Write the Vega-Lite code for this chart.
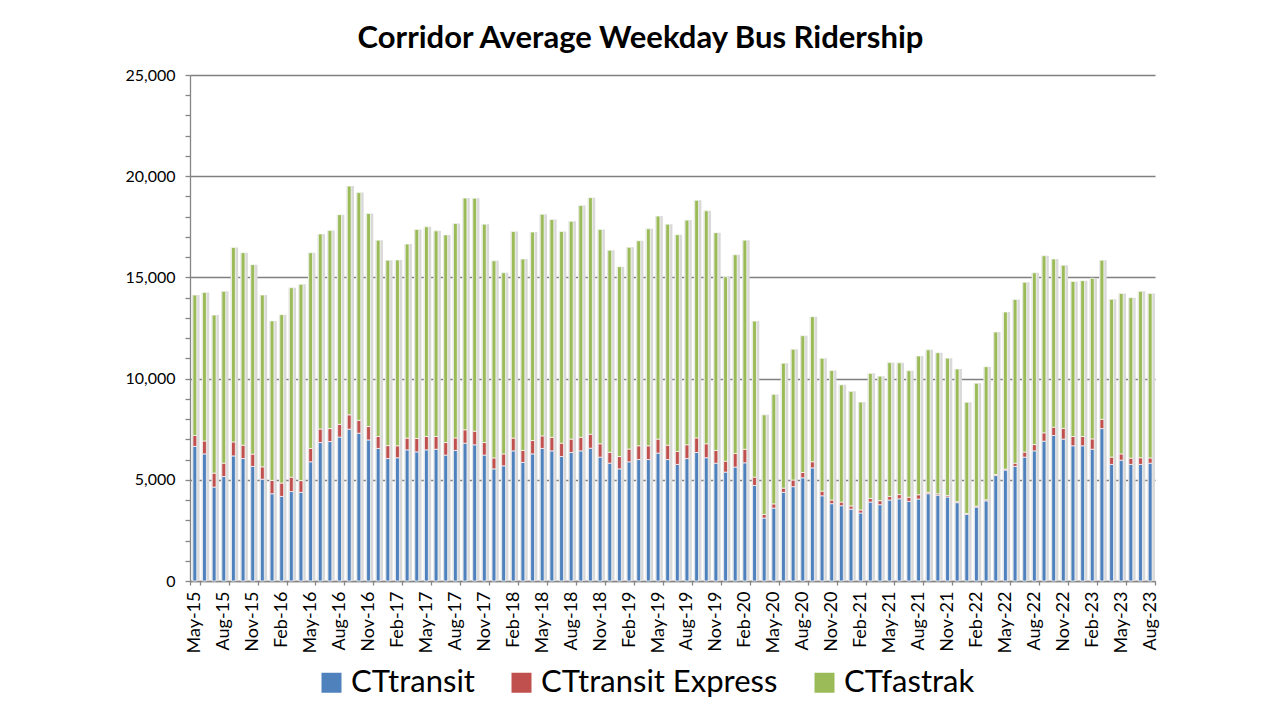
{
  "$schema": "https://vega.github.io/schema/vega-lite/v6.json",
  "width": 965,
  "height": 506,
  "autosize": {"type": "none"},
  "padding": {"left": 190, "top": 75, "right": 125, "bottom": 139},
  "background": "white",
  "config": {"font": "Lato", "view": {"stroke": null}},
  "title": {
    "text": "Corridor Average Weekday Bus Ridership",
    "font": "Lato",
    "fontSize": 31,
    "fontWeight": "bold",
    "color": "#000000",
    "anchor": "middle",
    "dx": -32,
    "offset": 12
  },
  "data": {
    "values": [
      {"m": "May-15", "CTtransit": 6650, "CTtransit Express": 540, "CTfastrak": 6940},
      {"m": "Jun-15", "CTtransit": 6280, "CTtransit Express": 640, "CTfastrak": 7340},
      {"m": "Jul-15", "CTtransit": 4640, "CTtransit Express": 690, "CTfastrak": 7810},
      {"m": "Aug-15", "CTtransit": 5160, "CTtransit Express": 660, "CTfastrak": 8490},
      {"m": "Sep-15", "CTtransit": 6180, "CTtransit Express": 690, "CTfastrak": 9610},
      {"m": "Oct-15", "CTtransit": 6050, "CTtransit Express": 660, "CTfastrak": 9510},
      {"m": "Nov-15", "CTtransit": 5660, "CTtransit Express": 610, "CTfastrak": 9360},
      {"m": "Dec-15", "CTtransit": 5030, "CTtransit Express": 610, "CTfastrak": 8490},
      {"m": "Jan-16", "CTtransit": 4310, "CTtransit Express": 660, "CTfastrak": 7880},
      {"m": "Feb-16", "CTtransit": 4180, "CTtransit Express": 660, "CTfastrak": 8320},
      {"m": "Mar-16", "CTtransit": 4420, "CTtransit Express": 710, "CTfastrak": 9360},
      {"m": "Apr-16", "CTtransit": 4380, "CTtransit Express": 580, "CTfastrak": 9700},
      {"m": "May-16", "CTtransit": 5890, "CTtransit Express": 660, "CTfastrak": 9670},
      {"m": "Jun-16", "CTtransit": 6840, "CTtransit Express": 670, "CTfastrak": 9640},
      {"m": "Jul-16", "CTtransit": 6890, "CTtransit Express": 640, "CTfastrak": 9790},
      {"m": "Aug-16", "CTtransit": 7110, "CTtransit Express": 630, "CTfastrak": 10360},
      {"m": "Sep-16", "CTtransit": 7500, "CTtransit Express": 710, "CTfastrak": 11300},
      {"m": "Oct-16", "CTtransit": 7300, "CTtransit Express": 640, "CTfastrak": 11250},
      {"m": "Nov-16", "CTtransit": 6970, "CTtransit Express": 660, "CTfastrak": 10530},
      {"m": "Dec-16", "CTtransit": 6550, "CTtransit Express": 590, "CTfastrak": 9700},
      {"m": "Jan-17", "CTtransit": 6050, "CTtransit Express": 640, "CTfastrak": 9160},
      {"m": "Feb-17", "CTtransit": 6090, "CTtransit Express": 590, "CTfastrak": 9180},
      {"m": "Mar-17", "CTtransit": 6480, "CTtransit Express": 580, "CTfastrak": 9590},
      {"m": "Apr-17", "CTtransit": 6380, "CTtransit Express": 660, "CTfastrak": 10330},
      {"m": "May-17", "CTtransit": 6480, "CTtransit Express": 660, "CTfastrak": 10360},
      {"m": "Jun-17", "CTtransit": 6510, "CTtransit Express": 630, "CTfastrak": 10160},
      {"m": "Jul-17", "CTtransit": 6220, "CTtransit Express": 620, "CTfastrak": 10260},
      {"m": "Aug-17", "CTtransit": 6450, "CTtransit Express": 620, "CTfastrak": 10590},
      {"m": "Sep-17", "CTtransit": 6810, "CTtransit Express": 660, "CTfastrak": 11450},
      {"m": "Oct-17", "CTtransit": 6730, "CTtransit Express": 670, "CTfastrak": 11510},
      {"m": "Nov-17", "CTtransit": 6220, "CTtransit Express": 620, "CTfastrak": 10790},
      {"m": "Dec-17", "CTtransit": 5540, "CTtransit Express": 540, "CTfastrak": 9740},
      {"m": "Jan-18", "CTtransit": 5690, "CTtransit Express": 590, "CTfastrak": 8950},
      {"m": "Feb-18", "CTtransit": 6430, "CTtransit Express": 630, "CTfastrak": 10210},
      {"m": "Mar-18", "CTtransit": 5860, "CTtransit Express": 590, "CTfastrak": 9460},
      {"m": "Apr-18", "CTtransit": 6280, "CTtransit Express": 660, "CTfastrak": 10300},
      {"m": "May-18", "CTtransit": 6550, "CTtransit Express": 620, "CTfastrak": 10950},
      {"m": "Jun-18", "CTtransit": 6430, "CTtransit Express": 670, "CTfastrak": 10760},
      {"m": "Jul-18", "CTtransit": 6150, "CTtransit Express": 660, "CTfastrak": 10460},
      {"m": "Aug-18", "CTtransit": 6350, "CTtransit Express": 660, "CTfastrak": 10760},
      {"m": "Sep-18", "CTtransit": 6430, "CTtransit Express": 670, "CTfastrak": 11450},
      {"m": "Oct-18", "CTtransit": 6560, "CTtransit Express": 690, "CTfastrak": 11690},
      {"m": "Nov-18", "CTtransit": 6120, "CTtransit Express": 660, "CTfastrak": 10590},
      {"m": "Dec-18", "CTtransit": 5820, "CTtransit Express": 540, "CTfastrak": 9980},
      {"m": "Jan-19", "CTtransit": 5540, "CTtransit Express": 610, "CTfastrak": 9380},
      {"m": "Feb-19", "CTtransit": 5890, "CTtransit Express": 630, "CTfastrak": 9970},
      {"m": "Mar-19", "CTtransit": 6000, "CTtransit Express": 680, "CTfastrak": 10130},
      {"m": "Apr-19", "CTtransit": 6000, "CTtransit Express": 680, "CTfastrak": 10720},
      {"m": "May-19", "CTtransit": 6320, "CTtransit Express": 690, "CTfastrak": 11020},
      {"m": "Jun-19", "CTtransit": 6000, "CTtransit Express": 710, "CTfastrak": 10920},
      {"m": "Jul-19", "CTtransit": 5760, "CTtransit Express": 640, "CTfastrak": 10710},
      {"m": "Aug-19", "CTtransit": 6050, "CTtransit Express": 680, "CTfastrak": 11100},
      {"m": "Sep-19", "CTtransit": 6350, "CTtransit Express": 720, "CTfastrak": 11740},
      {"m": "Oct-19", "CTtransit": 6090, "CTtransit Express": 690, "CTfastrak": 11510},
      {"m": "Nov-19", "CTtransit": 5820, "CTtransit Express": 630, "CTfastrak": 10760},
      {"m": "Dec-19", "CTtransit": 5380, "CTtransit Express": 540, "CTfastrak": 9110},
      {"m": "Jan-20", "CTtransit": 5630, "CTtransit Express": 670, "CTfastrak": 9820},
      {"m": "Feb-20", "CTtransit": 5840, "CTtransit Express": 670, "CTfastrak": 10330},
      {"m": "Mar-20", "CTtransit": 4720, "CTtransit Express": 410, "CTfastrak": 7710},
      {"m": "Apr-20", "CTtransit": 3110, "CTtransit Express": 180, "CTfastrak": 4920},
      {"m": "May-20", "CTtransit": 3600, "CTtransit Express": 210, "CTfastrak": 5410},
      {"m": "Jun-20", "CTtransit": 4380, "CTtransit Express": 210, "CTfastrak": 6170},
      {"m": "Jul-20", "CTtransit": 4660, "CTtransit Express": 330, "CTfastrak": 6460},
      {"m": "Aug-20", "CTtransit": 5100, "CTtransit Express": 260, "CTfastrak": 6760},
      {"m": "Sep-20", "CTtransit": 5590, "CTtransit Express": 300, "CTfastrak": 7170},
      {"m": "Oct-20", "CTtransit": 4210, "CTtransit Express": 230, "CTfastrak": 6560},
      {"m": "Nov-20", "CTtransit": 3820, "CTtransit Express": 180, "CTfastrak": 6400},
      {"m": "Dec-20", "CTtransit": 3720, "CTtransit Express": 180, "CTfastrak": 5790},
      {"m": "Jan-21", "CTtransit": 3550, "CTtransit Express": 160, "CTfastrak": 5660},
      {"m": "Feb-21", "CTtransit": 3360, "CTtransit Express": 150, "CTfastrak": 5330},
      {"m": "Mar-21", "CTtransit": 3900, "CTtransit Express": 180, "CTfastrak": 6180},
      {"m": "Apr-21", "CTtransit": 3770, "CTtransit Express": 200, "CTfastrak": 6150},
      {"m": "May-21", "CTtransit": 4000, "CTtransit Express": 180, "CTfastrak": 6610},
      {"m": "Jun-21", "CTtransit": 4060, "CTtransit Express": 210, "CTfastrak": 6510},
      {"m": "Jul-21", "CTtransit": 3930, "CTtransit Express": 210, "CTfastrak": 6250},
      {"m": "Aug-21", "CTtransit": 4050, "CTtransit Express": 210, "CTfastrak": 6860},
      {"m": "Sep-21", "CTtransit": 4310, "CTtransit Express": 70, "CTfastrak": 7040},
      {"m": "Oct-21", "CTtransit": 4240, "CTtransit Express": 70, "CTfastrak": 6970},
      {"m": "Nov-21", "CTtransit": 4150, "CTtransit Express": 70, "CTfastrak": 6790},
      {"m": "Dec-21", "CTtransit": 3870, "CTtransit Express": 50, "CTfastrak": 6560},
      {"m": "Jan-22", "CTtransit": 3290, "CTtransit Express": 50, "CTfastrak": 5490},
      {"m": "Feb-22", "CTtransit": 3650, "CTtransit Express": 50, "CTfastrak": 6070},
      {"m": "Mar-22", "CTtransit": 3960, "CTtransit Express": 50, "CTfastrak": 6580},
      {"m": "Apr-22", "CTtransit": 5210, "CTtransit Express": 50, "CTfastrak": 7040},
      {"m": "May-22", "CTtransit": 5480, "CTtransit Express": 50, "CTfastrak": 7760},
      {"m": "Jun-22", "CTtransit": 5660, "CTtransit Express": 160, "CTfastrak": 8090},
      {"m": "Jul-22", "CTtransit": 6120, "CTtransit Express": 250, "CTfastrak": 8390},
      {"m": "Aug-22", "CTtransit": 6430, "CTtransit Express": 310, "CTfastrak": 8490},
      {"m": "Sep-22", "CTtransit": 6910, "CTtransit Express": 410, "CTfastrak": 8750},
      {"m": "Oct-22", "CTtransit": 7190, "CTtransit Express": 410, "CTfastrak": 8310},
      {"m": "Nov-22", "CTtransit": 7010, "CTtransit Express": 530, "CTfastrak": 8060},
      {"m": "Dec-22", "CTtransit": 6680, "CTtransit Express": 460, "CTfastrak": 7660},
      {"m": "Jan-23", "CTtransit": 6680, "CTtransit Express": 460, "CTfastrak": 7700},
      {"m": "Feb-23", "CTtransit": 6510, "CTtransit Express": 510, "CTfastrak": 7940},
      {"m": "Mar-23", "CTtransit": 7530, "CTtransit Express": 460, "CTfastrak": 7860},
      {"m": "Apr-23", "CTtransit": 5760, "CTtransit Express": 360, "CTfastrak": 7800},
      {"m": "May-23", "CTtransit": 5970, "CTtransit Express": 310, "CTfastrak": 7930},
      {"m": "Jun-23", "CTtransit": 5760, "CTtransit Express": 310, "CTfastrak": 7930},
      {"m": "Jul-23", "CTtransit": 5760, "CTtransit Express": 330, "CTfastrak": 8220},
      {"m": "Aug-23", "CTtransit": 5820, "CTtransit Express": 260, "CTfastrak": 8130}
    ]
  },
  "transform": [
    {"fold": ["CTtransit", "CTtransit Express", "CTfastrak"], "as": ["series", "value"]},
    {"calculate": "indexof(['CTtransit', 'CTtransit Express', 'CTfastrak'], datum.series)", "as": "rank"}
  ],
  "encoding": {
    "x": {
      "field": "m",
      "type": "ordinal",
      "sort": null,
      "title": null,
      "scale": {"paddingInner": 0, "paddingOuter": 0},
      "axis": {
        "values": ["May-15", "Aug-15", "Nov-15", "Feb-16", "May-16", "Aug-16", "Nov-16", "Feb-17", "May-17", "Aug-17", "Nov-17", "Feb-18", "May-18", "Aug-18", "Nov-18", "Feb-19", "May-19", "Aug-19", "Nov-19", "Feb-20", "May-20", "Aug-20", "Nov-20", "Feb-21", "May-21", "Aug-21", "Nov-21", "Feb-22", "May-22", "Aug-22", "Nov-22", "Feb-23", "May-23", "Aug-23"],
        "labelAngle": -90,
        "labelFont": "Lato",
        "labelFontSize": 18,
        "labelColor": "#000000",
        "labelPadding": 6,
        "tickBand": "extent",
        "tickSize": 4,
        "tickColor": "#868686",
        "tickWidth": 1.3,
        "domainColor": "#868686",
        "domainWidth": 1.3,
        "grid": false
      }
    }
  },
  "layer": [
    {
      "mark": {"type": "bar", "color": "#d9d9d9", "width": {"band": 0.78}, "xOffset": 1},
      "encoding": {
        "y": {
          "aggregate": "sum",
          "field": "value",
          "type": "quantitative",
          "title": null,
          "scale": {"domain": [0, 25000]},
          "axis": {
            "values": [0, 1000, 2000, 3000, 4000, 5000, 6000, 7000, 8000, 9000, 10000, 11000, 12000, 13000, 14000, 15000, 16000, 17000, 18000, 19000, 20000, 21000, 22000, 23000, 24000, 25000],
            "format": ",.0f",
            "labelExpr": "datum.value % 5000 === 0 ? datum.label : ''",
            "labelFont": "Lato",
            "labelFontSize": 16,
            "labelColor": "#000000",
            "labelPadding": 10,
            "tickSize": 5,
            "tickColor": "#868686",
            "tickWidth": 1.3,
            "domainColor": "#868686",
            "domainWidth": 1.3,
            "grid": true,
            "gridColor": "#7f7f7f",
            "gridWidth": 1.4,
            "gridOpacity": {"condition": {"test": "datum.value % 5000 === 0", "value": 1}, "value": 0}
          }
        }
      }
    },
    {
      "mark": {"type": "bar", "width": {"band": 0.4}, "stroke": "white", "strokeWidth": 0.7},
      "encoding": {
        "y": {
          "field": "value",
          "type": "quantitative",
          "stack": "zero",
          "title": null,
          "scale": {"domain": [0, 25000]},
          "axis": {
            "values": [0, 1000, 2000, 3000, 4000, 5000, 6000, 7000, 8000, 9000, 10000, 11000, 12000, 13000, 14000, 15000, 16000, 17000, 18000, 19000, 20000, 21000, 22000, 23000, 24000, 25000],
            "format": ",.0f",
            "labelExpr": "datum.value % 5000 === 0 ? datum.label : ''",
            "labelFont": "Lato",
            "labelFontSize": 16,
            "labelColor": "#000000",
            "labelPadding": 10,
            "tickSize": 5,
            "tickColor": "#868686",
            "tickWidth": 1.3,
            "domainColor": "#868686",
            "domainWidth": 1.3,
            "grid": true,
            "gridColor": "#7f7f7f",
            "gridWidth": 1.4,
            "gridOpacity": {"condition": {"test": "datum.value % 5000 === 0", "value": 1}, "value": 0}
          }
        },
        "color": {
          "field": "series",
          "type": "nominal",
          "scale": {"domain": ["CTtransit", "CTtransit Express", "CTfastrak"], "range": ["#4f81bd", "#c0504d", "#9bbb59"]},
          "legend": {
            "orient": "none",
            "legendX": 126,
            "legendY": 592,
            "direction": "horizontal",
            "title": null,
            "symbolType": "square",
            "symbolSize": 400,
            "symbolStrokeWidth": 0,
            "labelFont": "Lato",
            "labelFontSize": 31,
            "labelColor": "#000000",
            "labelOffset": 4,
            "labelLimit": 0,
            "columnPadding": 31
          }
        },
        "order": {"field": "rank", "type": "quantitative"}
      }
    }
  ]
}
